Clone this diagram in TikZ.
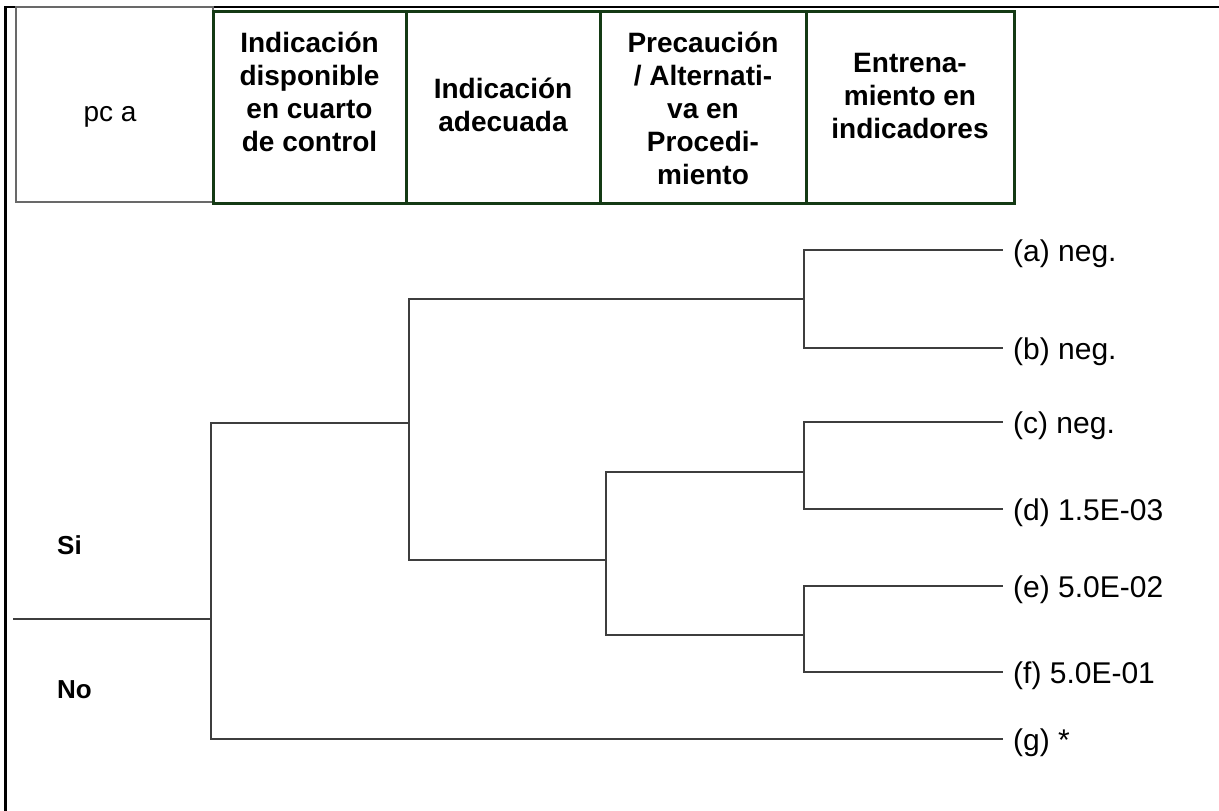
\documentclass[tikz,border=0pt]{standalone}
\usepackage{fontspec}
\setmainfont{Liberation Sans}
\definecolor{boxgreen}{RGB}{20,58,20}
\definecolor{treegray}{RGB}{62,62,62}
\definecolor{cellgray}{RGB}{105,105,105}
\begin{document}
\begin{tikzpicture}[x=1pt,y=-1pt,
  branch/.style={draw=treegray,line width=1.8pt},
  hdrbox/.style={draw=boxgreen,line width=3pt},
  hdrtext/.style={anchor=north,align=center,inner sep=0pt,font=\fontsize{28}{33}\selectfont\bfseries},
  celltext/.style={anchor=base,inner sep=0pt,font=\fontsize{28}{33}\selectfont},
  leaf/.style={anchor=base west,inner sep=0pt,font=\fontsize{30}{36}\selectfont},
  yn/.style={anchor=base west,inner sep=0pt,font=\fontsize{26}{30}\selectfont\bfseries}]
\useasboundingbox (0,0) rectangle (1219,811);
\fill[white] (0,0) rectangle (1219,811);
% outer frame
\draw[black,line width=2.7pt] (5.5,811) -- (5.5,7) -- (1219,7);
% header cells
\draw[cellgray,line width=2pt] (15.5,7) rectangle (213,202);
\draw[hdrbox] (213,11) rectangle (406,203);
\draw[hdrbox] (406,11) rectangle (600,203);
\draw[hdrbox] (600,11) rectangle (806,203);
\draw[hdrbox] (806,11) rectangle (1014,203);
\node[celltext] (pca) at (110,121.5) {pc a};
\node[hdrtext] (h1) at (309.5,32) {Indicación\\disponible\\en cuarto\\de control};
\node[hdrtext] (h2) at (503,78) {Indicación\\adecuada};
\node[hdrtext] (h3) at (703,32) {Precaución\\/ Alternati-\\va en\\Procedi-\\miento};
\node[hdrtext] (h4) at (910,53) {Entrena-\\miento en\\indicadores};
% tree coordinates
\coordinate (root) at (13,619);
\coordinate (A) at (211,619);
\coordinate (B) at (409,423);
\coordinate (C) at (804,299);
\coordinate (D) at (606,560);
\coordinate (E) at (804,472);
\coordinate (F) at (804,635);
\coordinate (La) at (1003,250);
\coordinate (Lb) at (1003,348);
\coordinate (Lc) at (1003,422);
\coordinate (Ld) at (1003,509);
\coordinate (Le) at (1003,586);
\coordinate (Lf) at (1003,672);
\coordinate (Lg) at (1003,739);
% branches
\draw[branch] (root) -- (A);
\draw[branch] (A) |- (B);
\draw[branch] (A) |- (Lg);
\draw[branch] (B) |- (C);
\draw[branch] (B) |- (D);
\draw[branch] (C) |- (La);
\draw[branch] (C) |- (Lb);
\draw[branch] (D) |- (E);
\draw[branch] (D) |- (F);
\draw[branch] (E) |- (Lc);
\draw[branch] (E) |- (Ld);
\draw[branch] (F) |- (Le);
\draw[branch] (F) |- (Lf);
% leaf labels
\node[leaf] (ta) at (1013,261) {(a) neg.};
\node[leaf] (tb) at (1013,359) {(b) neg.};
\node[leaf] (tc) at (1013,433) {(c) neg.};
\node[leaf] (td) at (1013,520) {(d) 1.5E-03};
\node[leaf] (te) at (1013,597) {(e) 5.0E-02};
\node[leaf] (tf) at (1013,683) {(f) 5.0E-01};
\node[leaf] (tg) at (1013,750) {(g) *};
% yes / no
\node[yn] (si) at (57,554) {Si};
\node[yn] (no) at (57,698) {No};
\end{tikzpicture}
\end{document}
